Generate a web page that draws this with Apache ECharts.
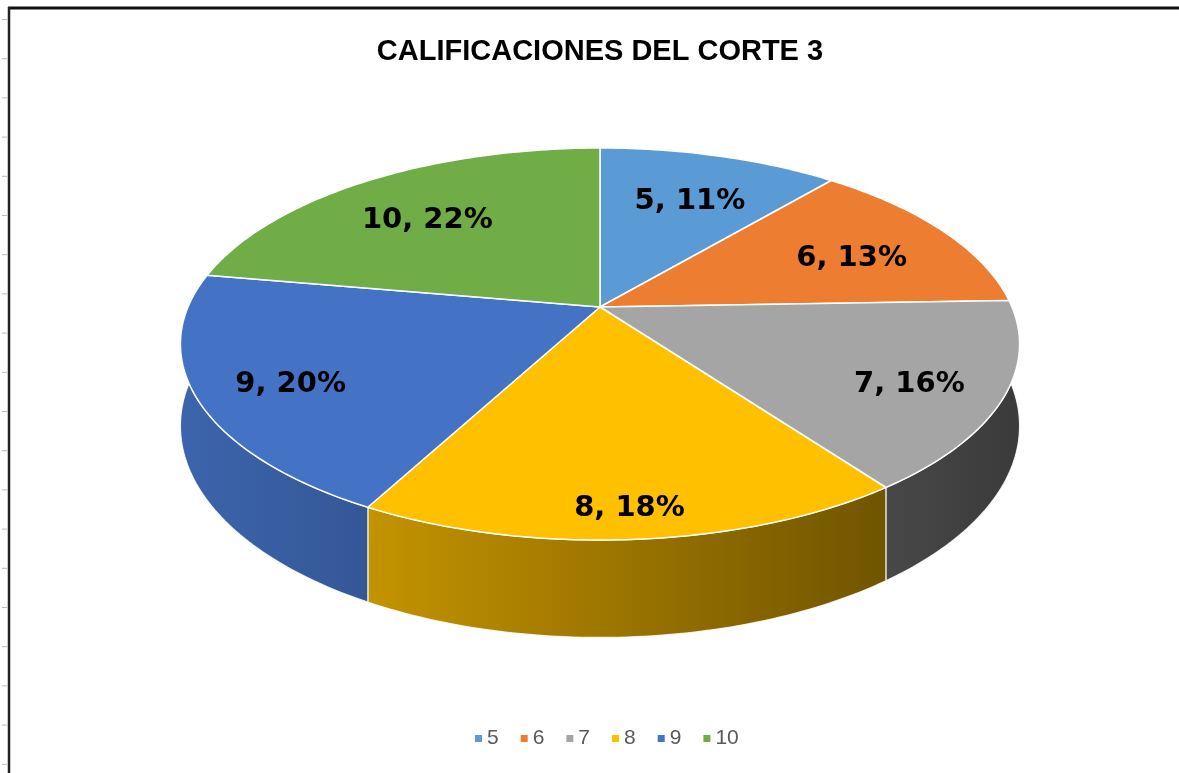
<!DOCTYPE html>
<html>
<head>
<meta charset="utf-8">
<title>Calificaciones del corte 3</title>
<script src="https://cdn.jsdelivr.net/npm/echarts@6/dist/echarts.min.js"></script>
<style>
  html, body { margin: 0; padding: 0; background: #fff; }
  #chart { width: 1179px; height: 773px; }
</style>
</head>
<body>
<div id="chart"></div>
<script>
// datos
const categories = ['5', '6', '7', '8', '9', '10']
const values = [5, 6, 7, 8, 9, 10]
const colors = ['#5B9BD5', '#ED7D31', '#A5A5A5', '#FFC000', '#4472C4', '#70AD47']

// geometria del pastel 3D (perspectiva simple)
const CX = 600
const CY = 307
const RX = 412
const RY = 189
const PERSP = 0.189
const DEPTH = 79

const total = values.reduce((a, b) => a + b, 0)
const starts = []
let acc = 0
values.forEach(v => { starts.push(acc); acc += v })

function proj(theta, r, drop) {
  const u = r * Math.sin(theta)
  const v = r * Math.cos(theta)
  const w = 1 + PERSP * v
  return [CX + RX * u / w, CY - RY * v / w + (drop || 0) / w]
}

function shade(hex, f) {
  const n = parseInt(hex.slice(1), 16)
  const r = Math.round(((n >> 16) & 255) * f)
  const g = Math.round(((n >> 8) & 255) * f)
  const b = Math.round((n & 255) * f)
  return `rgb(${r},${g},${b})`
}

function renderSlice(i) {
  const a0 = starts[i] / total * Math.PI * 2
  const a1 = (starts[i] + values[i]) / total * Math.PI * 2
  const steps = Math.max(4, Math.ceil((a1 - a0) / (Math.PI / 180)))
  const rim = []
  const bottom = []
  for (let k = 0; k <= steps; k++) {
    const t = a0 + (a1 - a0) * k / steps
    rim.push(proj(t, 1, 0))
    bottom.push(proj(t, 1, DEPTH))
  }
  const top = [[CX, CY]].concat(rim)
  const side = rim.concat(bottom.slice().reverse())

  const mid = (a0 + a1) / 2
  const lr = 0.72 + 0.14 * Math.max(0, -Math.cos(mid))
  const lp = proj(mid, lr, 0)
  const pct = Math.round(values[i] / total * 100)

  return {
    type: 'group',
    children: [
      {
        type: 'polygon',
        z2: 1,
        shape: { points: side },
        style: {
          fill: {
            type: 'linear', global: true,
            x: CX - RX, y: 0, x2: CX + RX, y2: 0,
            colorStops: [
              { offset: 0, color: shade(colors[i], 0.88) },
              { offset: 1, color: shade(colors[i], 0.36) }
            ]
          },
          stroke: 'rgba(255,255,255,0.85)',
          lineWidth: 1.2
        }
      },
      {
        type: 'polygon',
        z2: 5,
        shape: { points: top },
        style: { fill: colors[i], stroke: '#fff', lineWidth: 1.5, lineJoin: 'round' }
      },
      {
        type: 'text',
        z2: 10,
        x: lp[0],
        y: lp[1] + 8,
        style: {
          text: `${categories[i]}, ${pct}%`,
          fill: '#000',
          font: 'bold 29px "DejaVu Sans"',
          align: 'center',
          verticalAlign: 'middle'
        }
      }
    ]
  }
}

// marco y marcas del borde izquierdo
const frame = [
  { type: 'line', shape: { x1: 8, y1: 8, x2: 1179, y2: 8 }, style: { stroke: '#111', lineWidth: 3 } },
  { type: 'line', shape: { x1: 9, y1: 7, x2: 9, y2: 773 }, style: { stroke: '#222', lineWidth: 2.5 } }
]
for (let y = 19.5; y < 773; y += 39.2) {
  frame.push({ type: 'line', shape: { x1: 2, y1: y, x2: 7, y2: y }, style: { stroke: '#bbb', lineWidth: 1 } })
}

const chart = echarts.init(document.getElementById('chart'))
chart.setOption({
  backgroundColor: '#fff',
  animation: false,
  color: colors,
  title: {
    text: 'CALIFICACIONES DEL CORTE 3',
    left: 600,
    textAlign: 'center',
    top: 37,
    padding: 0,
    textStyle: { fontFamily: 'Liberation Sans', fontWeight: 'bold', fontSize: 29, color: '#000' }
  },
  legend: {
    data: categories,
    left: 470,
    top: 723,
    icon: 'rect',
    itemWidth: 7,
    itemHeight: 7,
    itemGap: 22,
    textStyle: { fontFamily: 'Liberation Sans', fontSize: 21, color: '#595959' }
  },
  graphic: frame,
  series: categories.map((name, i) => ({
    type: 'custom',
    name: name,
    coordinateSystem: 'none',
    data: [values[i]],
    itemStyle: { color: colors[i] },
    renderItem: () => renderSlice(i)
  }))
})
</script>
</body>
</html>
